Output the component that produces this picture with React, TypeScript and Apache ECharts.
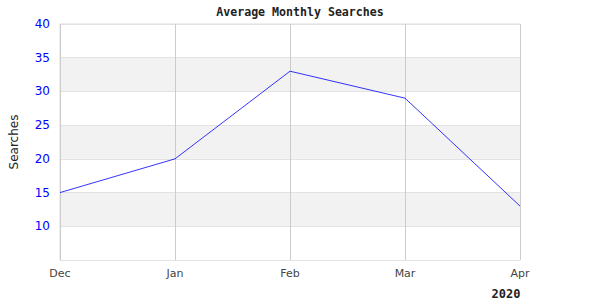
import React, { useEffect, useRef } from "react";
import * as echarts from "echarts";

const months = ["Dec", "Jan", "Feb", "Mar", "Apr"];
const searches = [15, 20, 33, 29, 13];
const yearLabel = "2020";

export default function App() {
  const ref = useRef<HTMLDivElement>(null);
  useEffect(() => {
    document.body.style.margin = "0";
    const chart = echarts.init(ref.current!, null, { renderer: "svg" });
    chart.setOption({
      animation: false,
      graphic: [
        {
          type: "text",
          x: 300,
          y: 12,
          style: {
            text: "Average Monthly Searches",
            font: "bold 11.6px 'DejaVu Sans Mono'",
            fill: "#222",
            textAlign: "center",
            textVerticalAlign: "middle",
          },
        },
        {
          type: "text",
          x: 506,
          y: 294,
          style: {
            text: yearLabel,
            font: "bold 12px 'DejaVu Sans Mono'",
            fill: "#222",
            textAlign: "center",
            textVerticalAlign: "middle",
          },
        },
      ],
      grid: {
        left: 60,
        right: 80,
        top: 24,
        bottom: 40,
        show: true,
        borderColor: "#dddddd",
        borderWidth: 1,
        backgroundColor: "transparent",
      },
      xAxis: {
        type: "category",
        data: months,
        boundaryGap: false,
        axisLine: { show: false },
        axisTick: { show: false },
        axisLabel: { color: "#444", fontFamily: "DejaVu Sans", fontSize: 11, margin: 8 },
        splitLine: { show: true, lineStyle: { color: "#cccccc" } },
      },
      yAxis: {
        type: "value",
        min: 5,
        max: 40,
        interval: 5,
        name: "Searches",
        nameLocation: "middle",
        nameGap: 40,
        nameTextStyle: { color: "#222", fontFamily: "DejaVu Sans", fontSize: 12 },
        axisLine: { show: false },
        axisTick: { show: false },
        axisLabel: {
          color: "#0000ff",
          fontFamily: "DejaVu Sans",
          fontSize: 12,
          margin: 10,
          formatter: (v: number) => (v === 5 ? "" : String(v)),
        },
        splitLine: { show: true, lineStyle: { color: "#e2e2e2" } },
        splitArea: { show: true, areaStyle: { color: ["#ffffff", "#f2f2f2"] } },
      },
      series: [
        {
          type: "line",
          data: searches,
          symbol: "none",
          lineStyle: { color: "#0000ff", width: 0.8 },
        },
      ],
    });
    return () => chart.dispose();
  }, []);
  return <div ref={ref} style={{ width: 600, height: 300 }} />;
}
